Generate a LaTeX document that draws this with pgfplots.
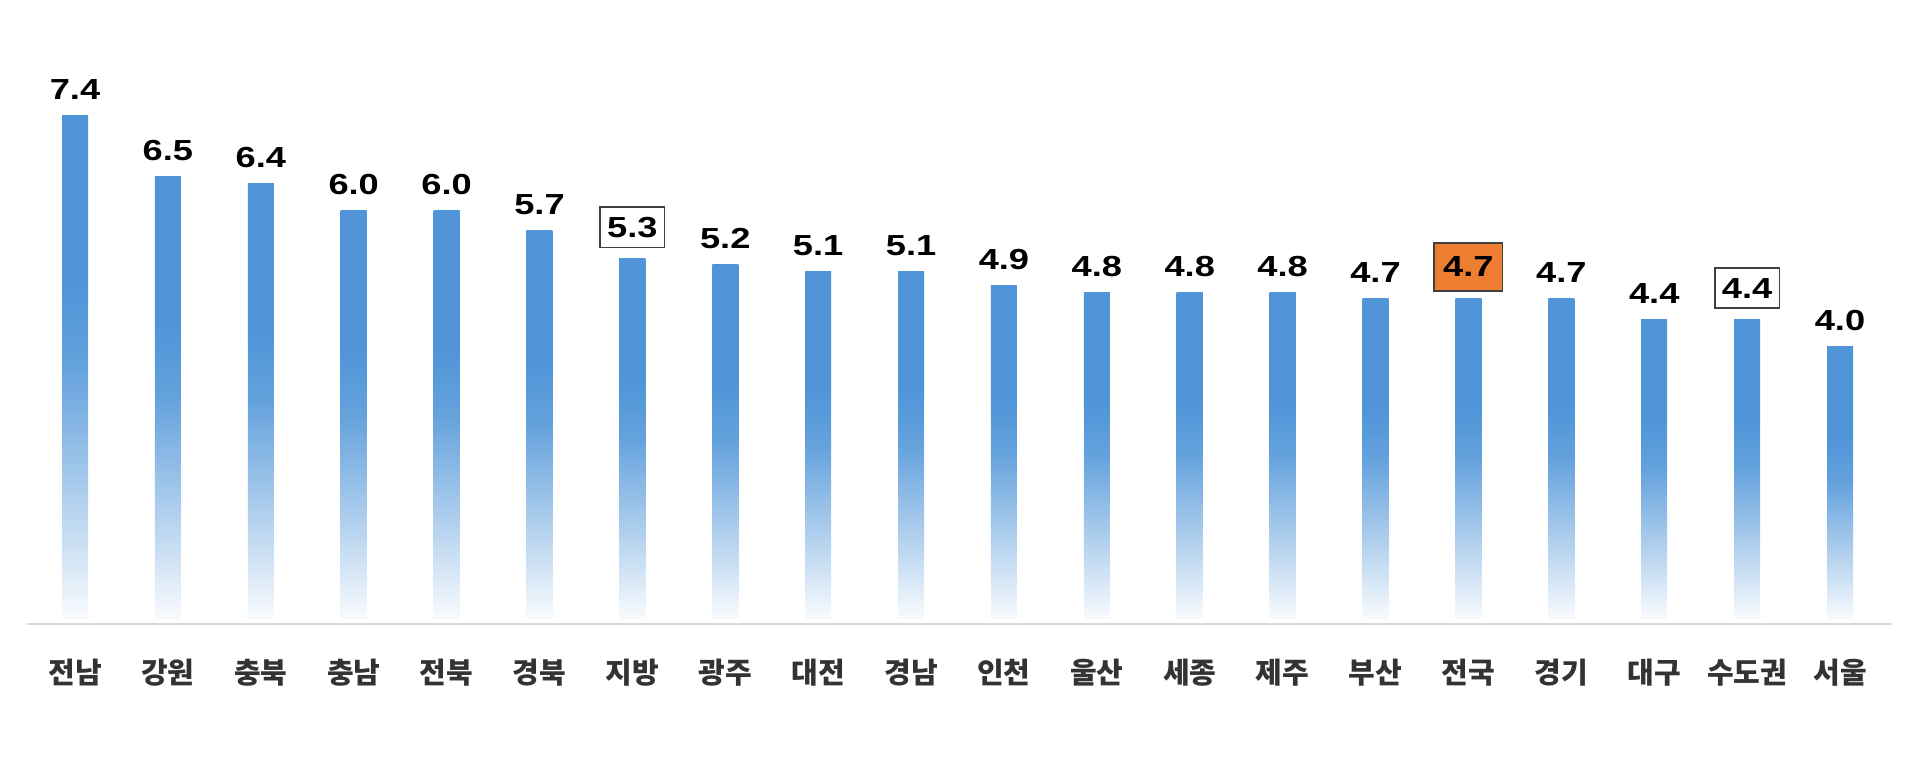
\documentclass[border=0pt]{standalone}
\usepackage{fontspec}
\usepackage{pgfplots}
\pgfplotsset{compat=1.18}
\setmainfont{Liberation Sans}
\newfontfamily\numfont[FakeStretch=1.25]{Liberation Sans}
\newfontfamily\cjk{Noto Sans CJK KR}
\definecolor{barblue}{HTML}{4F95D8}
\definecolor{boxorange}{HTML}{ED7D31}
\definecolor{axisgray}{HTML}{D9D9D9}
\colorlet{fadeA}{barblue!4!white}
\colorlet{fadeB}{barblue!45!white}
\colorlet{fadeC}{barblue!88!white}
% bar box maps to 25bp..75bp: solid upper half, fading to white at the base
\pgfdeclareverticalshading{barshade}{100bp}{color(0bp)=(white); color(25bp)=(fadeA); color(37bp)=(fadeB); color(50bp)=(fadeC); color(58bp)=(barblue); color(100bp)=(barblue)}
% each bar is its own plot so that the gradient runs over that bar only
\pgfplotsset{
  gbar/.style={draw=none, fill=barblue, shade, shading=barshade,
    every node near coord/.append style={yshift=13pt}},
  gbox/.style={draw=none, fill=barblue, shade, shading=barshade,
    every node near coord/.append style={yshift=15.5pt, draw=black!75, line width=0.8pt, fill=white, inner xsep=3.5pt, inner ysep=5pt}},
  gorange/.style={draw=none, fill=barblue, shade, shading=barshade,
    every node near coord/.append style={yshift=16pt, draw=black!75, line width=0.8pt, fill=boxorange, inner xsep=4.5pt, inner ysep=7pt}},
}
\begin{document}
\begin{tikzpicture}
% invisible frame: picture size 1920x756 px at 0.5pt per px
\path (-13.5pt,-66pt) rectangle (946.5pt,312pt);
\begin{axis}[
  scale only axis,
  width=932.5pt, height=312pt,
  xmin=-0.517, xmax=19.56,
  ymin=-0.088, ymax=9.10,
  axis y line=none,
  axis x line*=bottom,
  axis line style={-, draw=axisgray, line width=1.3pt},
  clip=false,
  xtick={0,...,19},
  xticklabels={전남,강원,충북,충남,전북,경북,지방,광주,대전,경남,인천,울산,세종,제주,부산,전국,경기,대구,수도권,서울},
  xticklabel style={font=\cjk\bfseries\fontsize{14.5}{14.5}\selectfont, text=black!80, yshift=-14pt},
  major tick length=0pt,
  ytick=\empty,
  /pgf/number format/assume math mode=true,
  /pgf/number format/fixed,
  /pgf/number format/fixed zerofill,
  /pgf/number format/precision=1,
  nodes near coords,
  every node near coord/.append style={font=\numfont\bfseries\fontsize{14.5}{14.5}\selectfont, text=black, anchor=center},
  bar width=13pt,
  ybar, bar shift=0pt,
]
\addplot[gbar] coordinates {(0,7.4)};    % 전남
\addplot[gbar] coordinates {(1,6.5)};    % 강원
\addplot[gbar] coordinates {(2,6.4)};    % 충북
\addplot[gbar] coordinates {(3,6.0)};    % 충남
\addplot[gbar] coordinates {(4,6.0)};    % 전북
\addplot[gbar] coordinates {(5,5.7)};    % 경북
\addplot[gbox] coordinates {(6,5.3)};    % 지방
\addplot[gbar] coordinates {(7,5.2)};    % 광주
\addplot[gbar] coordinates {(8,5.1)};    % 대전
\addplot[gbar] coordinates {(9,5.1)};    % 경남
\addplot[gbar] coordinates {(10,4.9)};   % 인천
\addplot[gbar] coordinates {(11,4.8)};   % 울산
\addplot[gbar] coordinates {(12,4.8)};   % 세종
\addplot[gbar] coordinates {(13,4.8)};   % 제주
\addplot[gbar] coordinates {(14,4.7)};   % 부산
\addplot[gorange] coordinates {(15,4.7)};% 전국
\addplot[gbar] coordinates {(16,4.7)};   % 경기
\addplot[gbar] coordinates {(17,4.4)};   % 대구
\addplot[gbox] coordinates {(18,4.4)};   % 수도권
\addplot[gbar] coordinates {(19,4.0)};   % 서울
\end{axis}
\end{tikzpicture}
\end{document}
